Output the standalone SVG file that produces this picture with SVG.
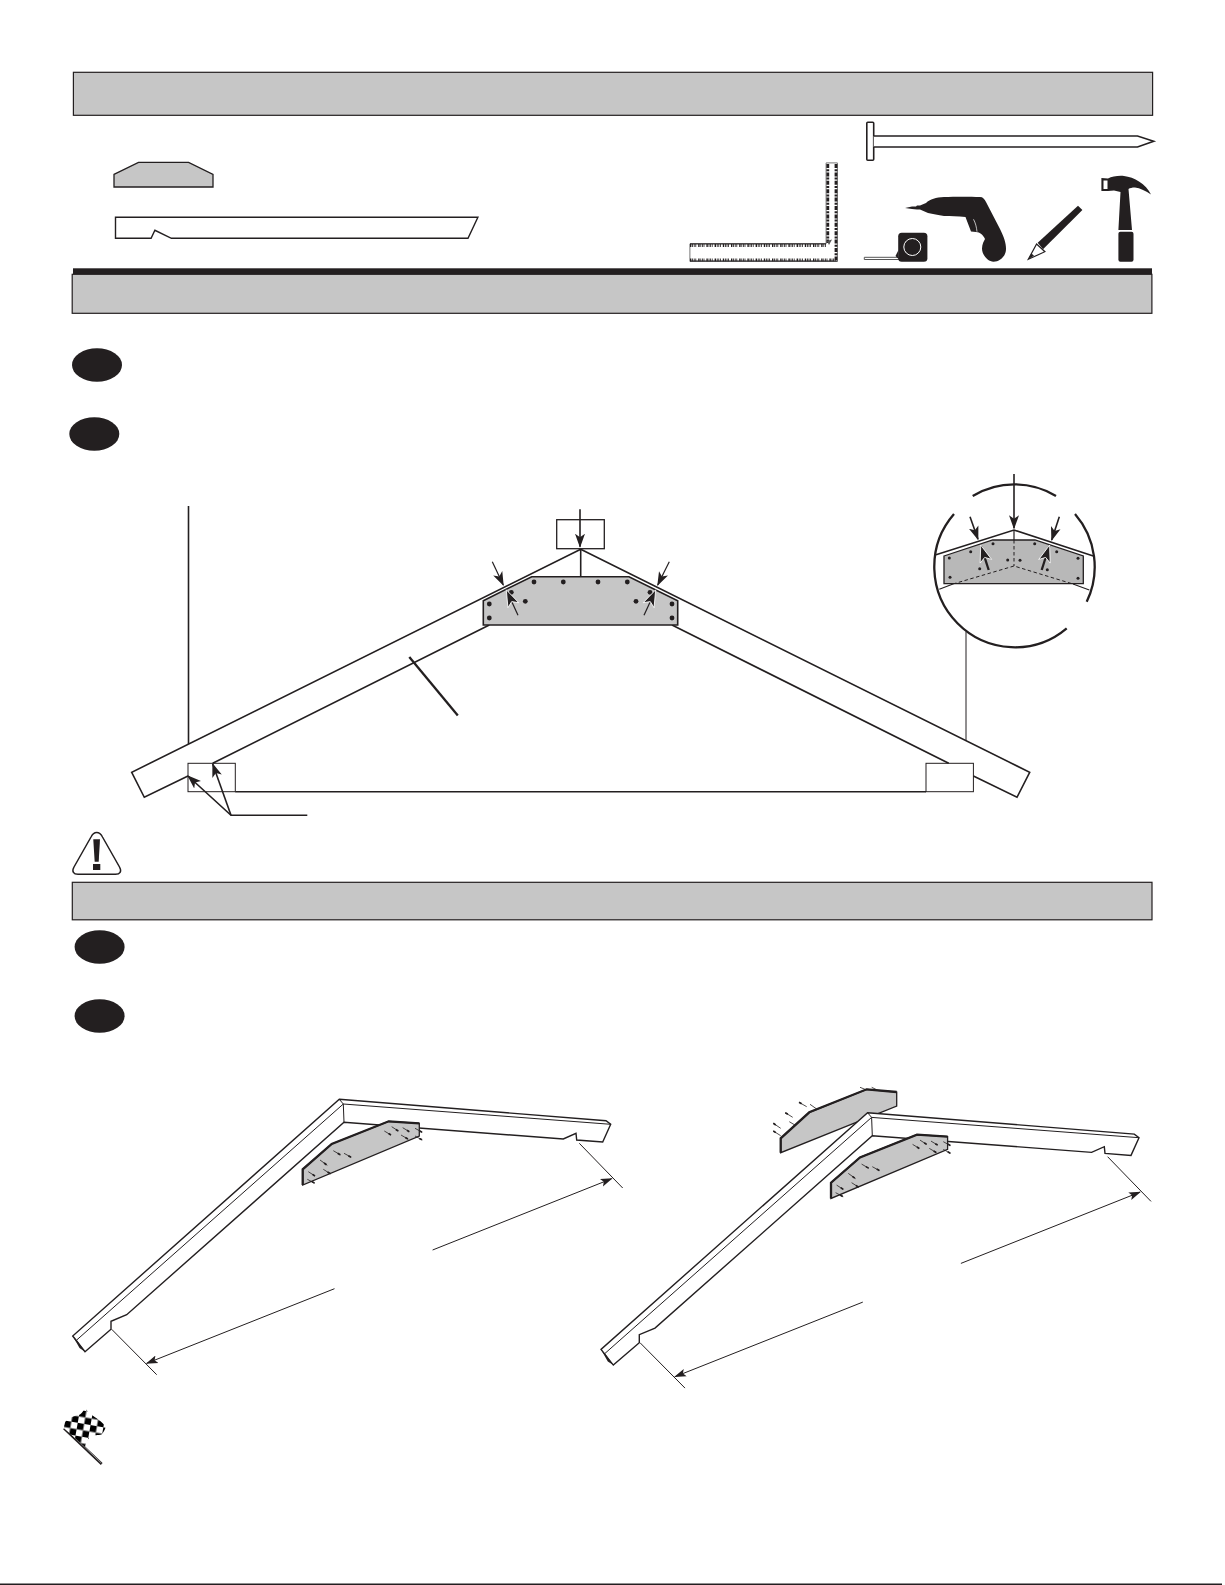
<svg xmlns="http://www.w3.org/2000/svg" xmlns:xlink="http://www.w3.org/1999/xlink" width="1225" height="1585" viewBox="0 0 1225 1585">
<style>
.ink{stroke:#231f20;fill:none;stroke-linejoin:miter}
.hdr{fill:#c6c6c6;stroke:#231f20;stroke-width:1.2}
.bul{fill:#231f20}
.sol{fill:#231f20;stroke:none}
.wood{fill:#fff;stroke:#231f20;stroke-width:1.4;stroke-linejoin:miter}
.gus{fill:#c6c6c6;stroke:#231f20;stroke-width:1.3}
.dot{fill:#231f20}
.nail{stroke:#231f20;stroke-width:.8;fill:none}
.tip{stroke:#231f20;stroke-width:1.700;fill:none;stroke-dasharray:0 5 3 100}
.w1{stroke-width:1}
.w15{stroke-width:1.6}
.w2{stroke-width:2.300}
</style>
<defs>
<marker id="ah" markerUnits="userSpaceOnUse" markerWidth="17" markerHeight="13" refX="13" refY="6.500" orient="auto"><path d="M0 1.500L14 6.500L0 11.500L3.500 6.500z" fill="#231f20"/></marker>
<marker id="ahw" markerUnits="userSpaceOnUse" markerWidth="22" markerHeight="18" refX="17" refY="9" orient="auto"><path d="M1 3L18 9L1 15L5 9z" fill="#231f20" stroke="#fff" stroke-width=".8"/></marker>
<marker id="ad" markerUnits="userSpaceOnUse" markerWidth="14" markerHeight="10" refX="11" refY="5" orient="auto"><path d="M0 1L12 5L0 9L2.500 5z" fill="#231f20"/></marker>
<pattern id="check" width="13" height="13" patternUnits="userSpaceOnUse" patternTransform="translate(80 1410) rotate(10)"><rect width="13" height="13" fill="#fff"/><rect width="6.500" height="6.500" fill="#000"/><rect x="6.500" y="6.500" width="6.500" height="6.500" fill="#000"/></pattern>
<g id="rafter3d">
<path class="wood" d="M339.300 1099.300L606 1120.700L610.700 1124.300L602.700 1142L576.700 1140L576 1133.300L563.300 1139L344 1122.300L126.700 1314.700L111 1321.300L111 1329.300L85 1351.700L72.700 1336z"/>
<path class="ink w1" d="M339.300 1099.300L343.300 1104L610.700 1124.300M343.300 1104L344 1122.300M343.300 1104L76.700 1340"/>
<path class="sol" d="M72.700 1336L76.700 1340L85 1351.700L79.500 1348z"/>
</g>
<g id="gusset3d">
<path class="gus" d="M302.700 1169.300L331.700 1144L388.700 1121.300L419.300 1123.300L419.300 1136L302.700 1185z"/>
<path class="ink w2" d="M302.700 1185L302.700 1169.300L331.700 1144L388.700 1121.300L419.300 1123.300"/>
<path id="n1" class="nail" d="M333.300 1150.700L340.700 1155M344 1153.300L351.300 1157.300M320 1160L327.300 1165.300M323.300 1169.300L330.700 1174M308.300 1171.700L315 1176M307.300 1179.300L315 1183.300M384.300 1131L391 1135M391.700 1126.700L398.300 1131M402.700 1127.700L409.300 1131.700M415 1128.300L422.300 1132.300M401 1135L408.300 1139.300M415 1136L422.300 1140"/>
<path class="tip" d="M333.300 1150.700L340.700 1155M344 1153.300L351.300 1157.300M320 1160L327.300 1165.300M323.300 1169.300L330.700 1174M308.300 1171.700L315 1176M307.300 1179.300L315 1183.300M384.300 1131L391 1135M391.700 1126.700L398.300 1131M402.700 1127.700L409.300 1131.700M415 1128.300L422.300 1132.300M401 1135L408.300 1139.300M415 1136L422.300 1140"/>
</g>
</defs>
<rect width="1225" height="1585" fill="#fff"/>

<g id="header-1"><rect class="hdr" x="73.400" y="72.300" width="1079.200" height="43"/></g>
<g id="part-gusset"><path class="gus" d="M114 174.300L138.500 162.300L188.600 162.300L213 174.300L213 187L114 187z"/></g>
<g id="part-rafter"><path class="wood" d="M115.500 217.300L477.900 217.300L468 238.300L171.400 238.300L154.900 230.300L151.100 238.300L115.500 238.300z"/></g>

<g id="tool-square">
<path d="M689.900 243.900H826.100V162.900H837.400V261.400H689.900z" fill="#fff" stroke="#777" stroke-width="1"/>
<path class="ink" d="M690 243.800H826M690 261H837.500" stroke-width="1"/>
<g class="ink">
<path d="M690 245.500H826" stroke-width="2.800" stroke-dasharray="1.400 .8 .8 .8 .8 .8 .8 2"/>
<path d="M690 259.800H837" stroke-width="2.800" stroke-dasharray="1.400 .8 .8 .8 .8 .8 .8 2"/>
<path d="M827.800 164V243" stroke-width="2.800" stroke-dasharray="4 1.200 2 1.200"/>
<path d="M836 164V260" stroke-width="2.800" stroke-dasharray="4 1.200 2 1.200"/>
</g>
<path d="M827 241L832 239.500L829 245z" fill="#555"/>
</g>

<g id="tool-nail">
<rect x="866.800" y="122.300" width="6.900" height="38" rx="1" fill="#fff" stroke="#231f20" stroke-width="1.600"/>
<path d="M873.700 136H1137.500L1153.700 141.300L1137.500 147H873.700" fill="#fff" stroke="#231f20" stroke-width="1.600"/>
</g>

<g id="tool-tape">
<path d="M864.300 259.500V257.300H899V259.500z" fill="#fff" stroke="#555" stroke-width="1"/>
<path d="M895.500 256L898.500 250V259z" class="sol"/>
<rect class="sol" x="898.200" y="232.700" width="29.200" height="29" rx="3.500"/>
<circle cx="912.300" cy="247" r="8.500" fill="#231f20" stroke="#fff" stroke-width="1"/>
</g>

<g id="tool-drill">
<path class="sol" d="M905 207.900L912 206.500L916 206.500L917 205.500L920 205.500L926 203C930 199 936 197.500 944 197C955 196.500 970 196.500 980 197C983 197 984.500 199 986 202L1000 229C1004 237 1006 243 1006 249C1006 256 1000 261.700 993.500 261.700C988 261.700 982 255 982 248.500C982 244 984 241 985 239C983 235 980 232 976 232L971 231.500C969 226 967 221 965.500 217C958 216 950 216.500 944 216C938 215 933 214 928 213L920 209.500L917 209.500L912 209z"/>
<path d="M973.500 219.300C975.500 223 976.500 227 977 231.700" stroke="#fff" stroke-width=".7" fill="none"/>
</g>

<g id="tool-pencil">
<path class="sol" d="M1037.700 242.700L1078 205.700L1082.400 210L1043 249.300z"/>
<path d="M1028.300 259.300L1036.600 244L1044.900 251.700z" fill="#fff" stroke="#231f20" stroke-width="1.200"/>
<path class="sol" d="M1028.300 259.300L1031.500 253.500L1034 255.800z"/>
</g>

<g id="tool-hammer">
<path class="sol" d="M1101.400 178L1108 178.500C1112 176.500 1118 175.500 1124 176C1134 177 1146 184 1151 194.500C1146 191 1140 188 1135 187.500C1132 187.500 1130 188 1128.500 189L1132 230H1118.400L1120.500 192L1114 190.500L1108 191L1101.400 191z"/>
<rect x="1103.500" y="180.500" width="4" height="8.500" fill="#fff"/>
<rect class="sol" x="1118.400" y="231.700" width="15.100" height="30" rx="2"/>
</g>

<g id="bar-divider"><rect class="sol" x="73" y="268.300" width="1079" height="6"/></g>
<g id="header-2"><rect class="hdr" x="72.200" y="274.300" width="1079.700" height="39"/></g>
<g id="step-1"><ellipse class="bul" cx="97" cy="365" rx="25" ry="16.700"/></g>
<g id="step-2"><ellipse class="bul" cx="94.300" cy="434" rx="25" ry="16.700"/></g>

<g id="truss">
<path class="ink w15" d="M580.700 549.300L131.700 772.300L144.300 797.300L188 776M212.700 763.300L489.300 625M672 625L948.700 763.300M973.400 776L1017 797.300L1029.700 772.300L580.700 549.300"/>
<path class="ink w15" d="M235.300 791.700H926"/>
<path class="ink w15" d="M580.700 549.300V576.700"/>
</g>
<g id="label-box-top"><rect x="556.700" y="519.700" width="47.600" height="29" fill="none" stroke="#231f20" stroke-width="1.300"/></g>
<g id="label-box-left"><rect x="188" y="763.300" width="47.300" height="28.400" fill="none" stroke="#231f20" stroke-width="1"/></g>
<g id="label-box-right"><rect x="926" y="763.300" width="47.400" height="28.400" fill="none" stroke="#231f20" stroke-width="1"/></g>
<g id="truss-gusset">
<path class="gus" style="stroke-width:1.600" d="M483.300 600.700L531.700 576.700L629 576.700L677.700 600.700L677.700 625L483.300 625z"/>
<g class="dot">
<circle cx="534" cy="582" r="2.400"/><circle cx="563.300" cy="582" r="2.400"/><circle cx="598" cy="582" r="2.400"/><circle cx="627.300" cy="582" r="2.400"/>
<circle cx="511.300" cy="592.300" r="2.400"/><circle cx="525.300" cy="601.300" r="2.400"/><circle cx="489.300" cy="604" r="2.400"/><circle cx="489.300" cy="618" r="2.400"/>
<circle cx="650" cy="592.300" r="2.400"/><circle cx="636" cy="601.300" r="2.400"/><circle cx="672" cy="604" r="2.400"/><circle cx="672" cy="618" r="2.400"/>
</g>
</g>

<g id="detail-circle">
<path class="ink w2" d="M972.700 496A80.500 80.500 0 0 1 1056 496M954 514A80.500 80.500 0 0 0 1066.700 628.300M1075 514A80.500 80.500 0 0 1 1086.700 601.700"/>
<path class="gus" style="fill:#b8b8b8" d="M944 556L992.700 540L1035 540L1083.300 556L1083.300 583.700L944 583.700z"/>
<path class="ink w15" d="M936 554.700L1014 530L1093.300 556"/>
<path class="ink" stroke-width="1.200" d="M1014 530V540M939.300 589.300L953 584M1089.300 590L1073 584"/>
<path class="ink w1" stroke-dasharray="3.500 2.500" d="M1014 540V566M953 584L1014 566L1073 584"/>
<g class="dot">
<circle cx="949.300" cy="558" r="1.500"/><circle cx="970.700" cy="551.700" r="1.500"/><circle cx="993" cy="543.700" r="1.500"/><circle cx="1007.700" cy="560" r="1.500"/><circle cx="1020" cy="560.300" r="1.500"/><circle cx="1034.700" cy="543.700" r="1.500"/><circle cx="1056.700" cy="551.700" r="1.500"/><circle cx="1078" cy="558.300" r="1.500"/><circle cx="979.700" cy="568.700" r="1.500"/><circle cx="1047.300" cy="569.700" r="1.500"/><circle cx="950" cy="577.300" r="1.500"/><circle cx="1078" cy="578.300" r="1.500"/>
</g>
</g>

<g id="warning">
<path d="M96.700 832.500C94 832.500 92.500 834 91 837L74 867C71.500 871.500 73.500 874.300 78 874.300H115.500C120 874.300 122 871.500 119.500 867L102.500 837C101 834 99.500 832.500 96.700 832.500z" fill="#fff" stroke="#231f20" stroke-width="1.500"/>
<path class="sol" d="M93.300 839.300H100L98.700 861.700H94.700z"/>
<rect class="sol" x="93" y="864" width="7.300" height="6"/>
</g>

<g id="header-3"><rect class="hdr" x="72.300" y="882.300" width="1079.700" height="37.500"/></g>
<g id="step-3"><ellipse class="bul" cx="99.600" cy="947" rx="25" ry="16.700"/></g>
<g id="step-4"><ellipse class="bul" cx="99.600" cy="1016" rx="25" ry="16.700"/></g>

<g id="assembly-left">
<use href="#rafter3d" xlink:href="#rafter3d"/>
<use href="#gusset3d" xlink:href="#gusset3d"/>
</g>
<g id="assembly-right">
<g id="outer-gusset">
<path class="gus" d="M780.700 1138.300L809.300 1112.300L866.700 1089.300L896.700 1092L896.700 1106L780.700 1152.700z"/>
<path class="ink w2" d="M780.700 1152.700L780.700 1138.300L809.300 1112.300L866.700 1089.300L896.700 1092"/>
<path class="nail" d="M860 1087.300L866.700 1090M871.700 1087.300L877.300 1090M799 1102.300L806.700 1106.700M810 1104.300L816.700 1109M785.300 1112.700L792.700 1117.300M789.300 1121.700L796 1125.700M773.300 1123.300L780.700 1128.300M773.300 1131L780.700 1135.700"/>
<path class="tip" d="M799 1102.300L806.700 1106.700M785.300 1112.700L792.700 1117.300M773.300 1123.300L780.700 1128.300M773.300 1131L780.700 1135.700" style="stroke-dasharray:3 100"/>
</g>
<g transform="translate(528.300 13.400)">
<use href="#rafter3d" xlink:href="#rafter3d"/>
<use href="#gusset3d" xlink:href="#gusset3d"/>
</g>
</g>

<g id="connectors">
<path class="ink w15" d="M580 509.300V546.700" marker-end="url(#ah)"/>
<path class="ink" stroke-width="1.200" d="M492.300 561.700L503.300 585" marker-end="url(#ah)"/>
<path class="ink" stroke-width="1.200" d="M669.300 561.700L657.700 585" marker-end="url(#ah)"/>
<path class="ink" stroke-width="1.200" d="M518 615.300L506.700 590.700" marker-end="url(#ahw)"/>
<path class="ink" stroke-width="1.200" d="M644 615.300L655.300 590.700" marker-end="url(#ahw)"/>
<path class="ink w15" d="M188.500 506V744"/>
<path class="ink w1" d="M966 631.700V740.500"/>
<path class="ink w2" d="M409.300 657L457.800 715.600"/>
<path class="ink w15" d="M307.300 815.300H231L188 776" marker-end="url(#ah)"/>
<path class="ink w15" d="M231 815.300L212.700 764" marker-end="url(#ah)"/>
<path class="ink w15" d="M1014 474V528.300" marker-end="url(#ah)"/>
<path class="ink w15" d="M970 516.700L978 539.300" marker-end="url(#ah)"/>
<path class="ink w15" d="M1059.300 516.700L1051.700 540" marker-end="url(#ah)"/>
<path class="ink w2" d="M988.700 570L981 546" marker-end="url(#ahw)"/>
<path class="ink w2" d="M1041.700 570L1049.300 546" marker-end="url(#ahw)"/>
<path class="ink w1" d="M579.300 1143.300L622.700 1188M111.700 1329.300L156.700 1374.700M1107.600 1156.700L1151 1201.400M640 1342.700L685 1388.100"/>
<path class="ink w1" d="M432.600 1250L611.700 1178.700" marker-end="url(#ad)"/>
<path class="ink w1" d="M334.500 1288.700L146.700 1363.300" marker-end="url(#ad)"/>
<path class="ink w1" d="M960.900 1263.400L1140 1192.100" marker-end="url(#ad)"/>
<path class="ink w1" d="M862.800 1302.100L675 1376.700" marker-end="url(#ad)"/>
</g>

<g id="finish-flag">
<path d="M64 1428.300L101.700 1464" stroke="#231f20" stroke-width="2.600" fill="none"/>
<path d="M64.300 1427.500L101.300 1463" stroke="#aaa" stroke-width=".8" fill="none"/>
<path fill="url(#check)" d="M64 1428.300C64 1424 65 1421.500 67 1420C70 1417 75 1416 80 1414.500C82.500 1413 84 1410 85 1407.300C86.500 1411 90 1414 95 1417.300C99 1419.500 103 1423 105.700 1426.700C105 1430 103 1433 101.500 1434.500C98 1435.500 94 1434.500 91 1436.500C87 1439 86 1443 85 1446.700z"/>
</g>

<g id="footer-rule"><rect class="sol" x="0" y="1583.500" width="1222" height="1.500"/></g>
</svg>
